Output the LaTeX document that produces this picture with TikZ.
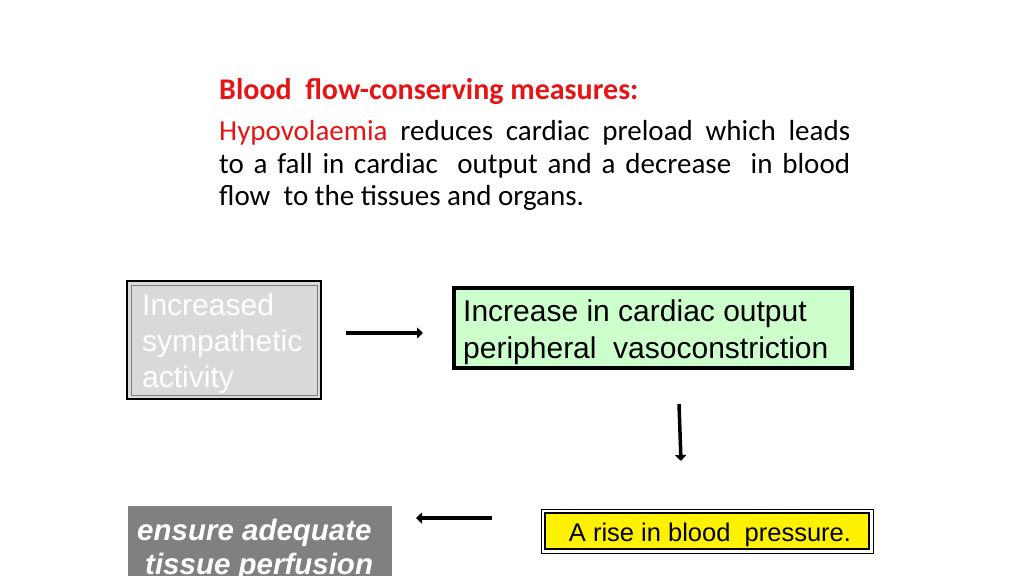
\documentclass[tikz,border=0pt]{standalone}
\usepackage{fontspec}
\setmainfont{Carlito}
\newfontfamily\arial{Liberation Sans}
\usetikzlibrary{arrows.meta}
\definecolor{hdred}{RGB}{230,20,20}
\definecolor{boxgray}{RGB}{217,217,217}
\definecolor{boxgreen}{RGB}{204,255,204}
\definecolor{darkbox}{RGB}{128,128,128}
\begin{document}
\begin{tikzpicture}[x=1pt,y=-1pt,
  arr/.style={line width=4.5pt,-{Triangle[length=6pt,width=11pt]}},
  btxt/.style={font=\arial\fontsize{30}{36}\selectfont,anchor=base west,inner sep=0pt}]
\useasboundingbox (0,0) rectangle (1024,576);
% header
\node[anchor=base west,inner sep=0pt,text=hdred,font=\fontsize{30}{30}\bfseries] (hd) at (219,99) {Blood\ \ flow-conserving measures:};
\node[anchor=base west,inner sep=0pt,font=\fontsize{29}{30}\selectfont] (l1) at (219,140) {\makebox[631pt][s]{\textcolor{hdred}{Hypovolaemia} reduces cardiac preload which leads}};
\node[anchor=base west,inner sep=0pt,font=\fontsize{29}{30}\selectfont] (l2) at (219,173) {\makebox[631pt][s]{to a fall in cardiac\ \ output and a decrease\ \ in blood}};
\node[anchor=base west,inner sep=0pt,font=\fontsize{29}{30}\selectfont] (l3) at (219,205) {flow\ \ to the tissues and organs.};
% gray box
\draw[line width=2.5pt,fill=boxgray] (127,281) rectangle (321,399);
\draw[line width=1pt,gray] (131,285) rectangle (317,395);
\node[btxt,text=white] (gt1) at (142,315) {Increased};
\node[btxt,text=white] (gt2) at (142,351) {sympathetic};
\node[btxt,text=white] (gt3) at (142,387) {activity};
% green box
\draw[line width=4.5pt,fill=boxgreen] (454,288) rectangle (852,368);
\node[btxt] (gr1) at (463,321) {Increase in cardiac output};
\node[btxt] (gr2) at (463,358) {peripheral\ \ vasoconstriction};
% yellow box
\draw[line width=1pt] (541,509) rectangle (873,553);
\draw[line width=2.5pt,fill=yellow] (545,513) rectangle (869,549);
\node[anchor=base,inner sep=0pt,font=\arial\fontsize{25.5}{28}\selectfont] (yt) at (710,541) {A rise in blood\ \ pressure.};
% dark box
\fill[darkbox] (128,506) rectangle (392,576);
\node[anchor=base west,inner sep=0pt,text=white,font=\arial\fontsize{29.5}{35}\bfseries\itshape] (dt1) at (137,540) {ensure adequate};
\node[anchor=base west,inner sep=0pt,text=white,font=\arial\fontsize{29.5}{35}\bfseries\itshape] (dt2) at (145,574) {tissue perfusion};
% arrows
\coordinate (a1s) at (346,333); \coordinate (a1e) at (423,333);
\coordinate (a2s) at (679,404); \coordinate (a2e) at (681,461);
\coordinate (a3s) at (492,518); \coordinate (a3e) at (416,518);
\draw[arr] (a1s) -- (a1e);
\draw[arr,line width=3.5pt] (a2s) -- (a2e);
\draw[arr] (a3s) -- (a3e);
\end{tikzpicture}
\end{document}
